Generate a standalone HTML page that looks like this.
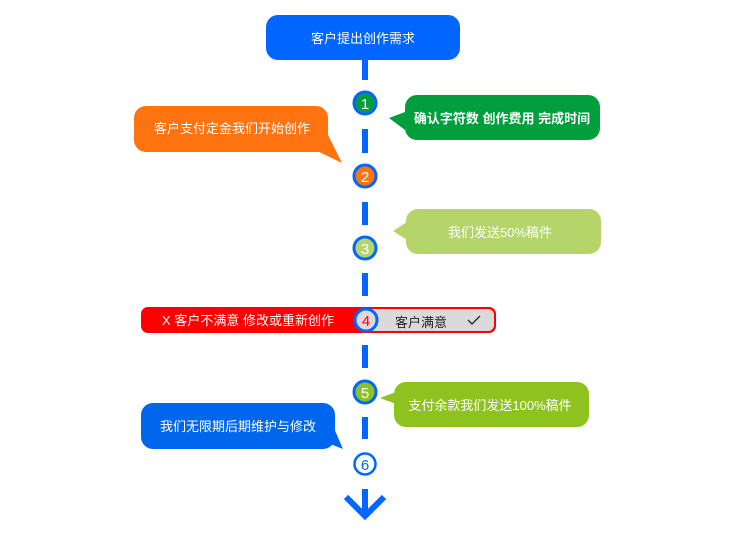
<!DOCTYPE html>
<html><head><meta charset="utf-8"><style>
html,body{margin:0;padding:0;background:#fff;width:730px;height:540px;overflow:hidden}
svg text{font-family:"Liberation Sans","Noto Sans CJK SC",sans-serif}
</style></head><body>
<svg width="730" height="540" viewBox="0 0 730 540" xmlns="http://www.w3.org/2000/svg">
<rect x="266" y="15" width="194" height="45" rx="12" fill="#0066ff"/>
<text x="363" y="43" font-size="13" fill="#fff" text-anchor="middle">客户提出创作需求</text>
<g fill="#0066ff">
<rect x="362" y="60" width="6" height="20"/>
<rect x="362" y="129" width="6" height="24"/>
<rect x="362" y="202" width="6" height="23"/>
<rect x="362" y="273" width="6" height="23"/>
<rect x="362" y="345" width="6" height="23"/>
<rect x="362" y="417" width="6" height="22"/>
<rect x="362" y="489" width="6" height="28"/>
</g>
<polyline points="346,497 365,516 384,497" fill="none" stroke="#0066ff" stroke-width="6"/>
<!-- bubble 1 -->
<path d="M389,118 L405,112 L405,130 Z" fill="#009e3c"/>
<rect x="405" y="95" width="195" height="45" rx="12" fill="#009e3c"/>
<text x="502" y="123" font-size="13" fill="#fff" text-anchor="middle" font-weight="bold">确认字符数 创作费用 完成时间</text>
<!-- orange -->
<rect x="134" y="106" width="194" height="46" rx="12" fill="#ff7410"/>
<path d="M315,150 L342,163 L328,135 Z" fill="#ff7410"/>
<text x="232" y="133" font-size="13" fill="#fff" text-anchor="middle">客户支付定金我们开始创作</text>
<!-- bubble 3 -->
<path d="M393,231 L407,222 L407,240 Z" fill="#b5d46a"/>
<rect x="406" y="209" width="195" height="45" rx="12" fill="#b5d46a"/>
<text x="500" y="237" font-size="13" fill="#fff" text-anchor="middle">我们发送50%稿件</text>
<!-- red bar -->
<rect x="141" y="307" width="355" height="26" rx="7" fill="#ff0000"/>
<rect x="362" y="309" width="132" height="22" rx="6" fill="#dcd9da"/>
<text x="248" y="325" font-size="13" fill="#fff" text-anchor="middle">X 客户不满意 修改或重新创作</text>
<text x="421" y="327" font-size="13" fill="#222" text-anchor="middle">客户满意</text>
<polyline points="468,320 472,324 480,316" fill="none" stroke="#222" stroke-width="1.3"/>
<!-- bubble 5 -->
<path d="M380,398 L396,404 L396,392 Z" fill="#8ec21f"/>
<rect x="394" y="382" width="195" height="45" rx="12" fill="#8ec21f"/>
<text x="490" y="410" font-size="13" fill="#fff" text-anchor="middle">支付余款我们发送100%稿件</text>
<!-- blue bubble -->
<rect x="141" y="403" width="194" height="46" rx="12" fill="#0066ee"/>
<path d="M320,440 L343,449 L333,426 Z" fill="#0066ee"/>
<text x="238" y="431" font-size="13" fill="#fff" text-anchor="middle">我们无限期后期维护与修改</text>
<!-- circles -->
<g stroke="#0066ff" stroke-width="3">
<circle cx="365" cy="103" r="11" fill="#009e3c"/>
<circle cx="365" cy="176" r="11" fill="#ff7410"/>
<circle cx="365" cy="248" r="11" fill="#b5d46a"/>
<circle cx="366" cy="320" r="11" fill="#dcd9da"/>
<circle cx="365" cy="392" r="11" fill="#8ec21f"/>
<circle cx="365" cy="464" r="10.5" fill="#fff" stroke-width="2.5"/>
</g>
<g font-size="15" text-anchor="middle">
<text x="365" y="109" fill="#fff">1</text>
<text x="365" y="182" fill="#fff">2</text>
<text x="365" y="254" fill="#fff">3</text>
<text x="366" y="326" fill="#ff0000">4</text>
<text x="365" y="398" fill="#fff">5</text>
<text x="365" y="470" fill="#0066ff">6</text>
</g>
</svg>
</body></html>
